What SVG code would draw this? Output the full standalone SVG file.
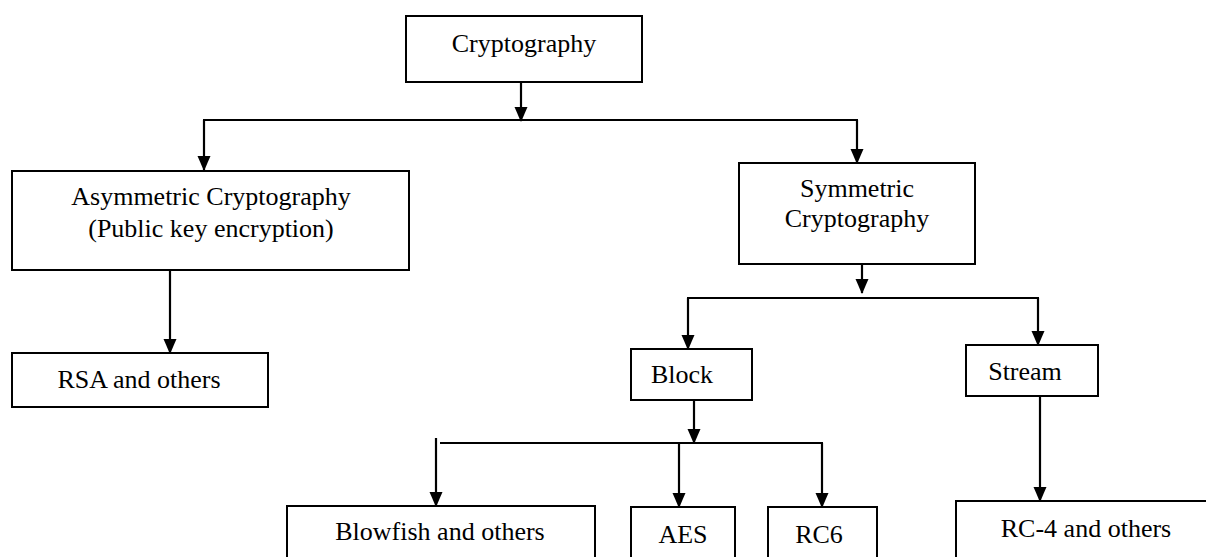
<svg xmlns="http://www.w3.org/2000/svg" width="1206" height="557" viewBox="0 0 1206 557">
<style>
.box{fill:#fff;stroke:#000;stroke-width:2}
.t{font-family:"Liberation Serif","Times New Roman",serif;font-size:26px;fill:#000;text-anchor:middle}
.c{stroke:#000;stroke-width:2.2;fill:none}
</style>
<defs>
<marker id="ah" markerUnits="userSpaceOnUse" markerWidth="16" markerHeight="14" refX="14" refY="6.5" orient="auto">
<path d="M0,0 L15,6.5 L0,13 z" fill="#000"/>
</marker>
</defs>
<rect width="1206" height="557" fill="#fff"/>
<g id="connectors">
<line class="c" x1="521" y1="82" x2="521" y2="121" marker-end="url(#ah)"/>
<line class="c" x1="203" y1="120" x2="858" y2="120"/>
<line class="c" x1="204" y1="120" x2="204" y2="170" marker-end="url(#ah)"/>
<line class="c" x1="857" y1="120" x2="857" y2="163" marker-end="url(#ah)"/>
<line class="c" x1="170" y1="270" x2="170" y2="353" marker-end="url(#ah)"/>
<line class="c" x1="862" y1="258" x2="862" y2="293" marker-end="url(#ah)"/>
<line class="c" x1="687" y1="298" x2="1039" y2="298"/>
<line class="c" x1="688" y1="298" x2="688" y2="349" marker-end="url(#ah)"/>
<line class="c" x1="1038" y1="298" x2="1038" y2="345" marker-end="url(#ah)"/>
<line class="c" x1="1040" y1="396" x2="1040" y2="501" marker-end="url(#ah)"/>
<line class="c" x1="694" y1="400" x2="694" y2="443" marker-end="url(#ah)"/>
<line class="c" x1="440" y1="443" x2="823" y2="443"/>
<line class="c" x1="436" y1="438" x2="436" y2="506" marker-end="url(#ah)"/>
<line class="c" x1="679" y1="443" x2="679" y2="507" marker-end="url(#ah)"/>
<line class="c" x1="822" y1="443" x2="822" y2="507" marker-end="url(#ah)"/>
</g>
<g id="cryptography">
<rect class="box" x="406" y="16" width="236" height="66"/>
<text class="t" x="524" y="52">Cryptography</text>
</g>
<g id="asymmetric">
<rect class="box" x="12" y="171" width="397" height="99"/>
<text class="t" x="211" y="205">Asymmetric Cryptography</text>
<text class="t" x="211" y="237">(Public key encryption)</text>
</g>
<g id="symmetric">
<rect class="box" x="739" y="163" width="236" height="101"/>
<text class="t" x="857" y="197">Symmetric</text>
<text class="t" x="857" y="227">Cryptography</text>
</g>
<g id="rsa">
<rect class="box" x="12" y="353" width="256" height="54"/>
<text class="t" x="139" y="388">RSA and others</text>
</g>
<g id="block">
<rect class="box" x="631" y="349" width="121" height="51"/>
<text class="t" x="682" y="383">Block</text>
</g>
<g id="stream">
<rect class="box" x="966" y="345" width="132" height="51"/>
<text class="t" x="1025" y="380">Stream</text>
</g>
<g id="blowfish">
<rect class="box" x="287" y="506" width="308" height="60"/>
<text class="t" x="440" y="540">Blowfish and others</text>
</g>
<g id="aes">
<rect class="box" x="631" y="507" width="104" height="60"/>
<text class="t" x="683" y="543">AES</text>
</g>
<g id="rc6">
<rect class="box" x="768" y="507" width="109" height="60"/>
<text class="t" x="819" y="543">RC6</text>
</g>
<g id="rc4">
<rect class="box" x="956" y="501" width="262" height="66"/>
<text class="t" x="1086" y="537">RC-4 and others</text>
</g>
</svg>
